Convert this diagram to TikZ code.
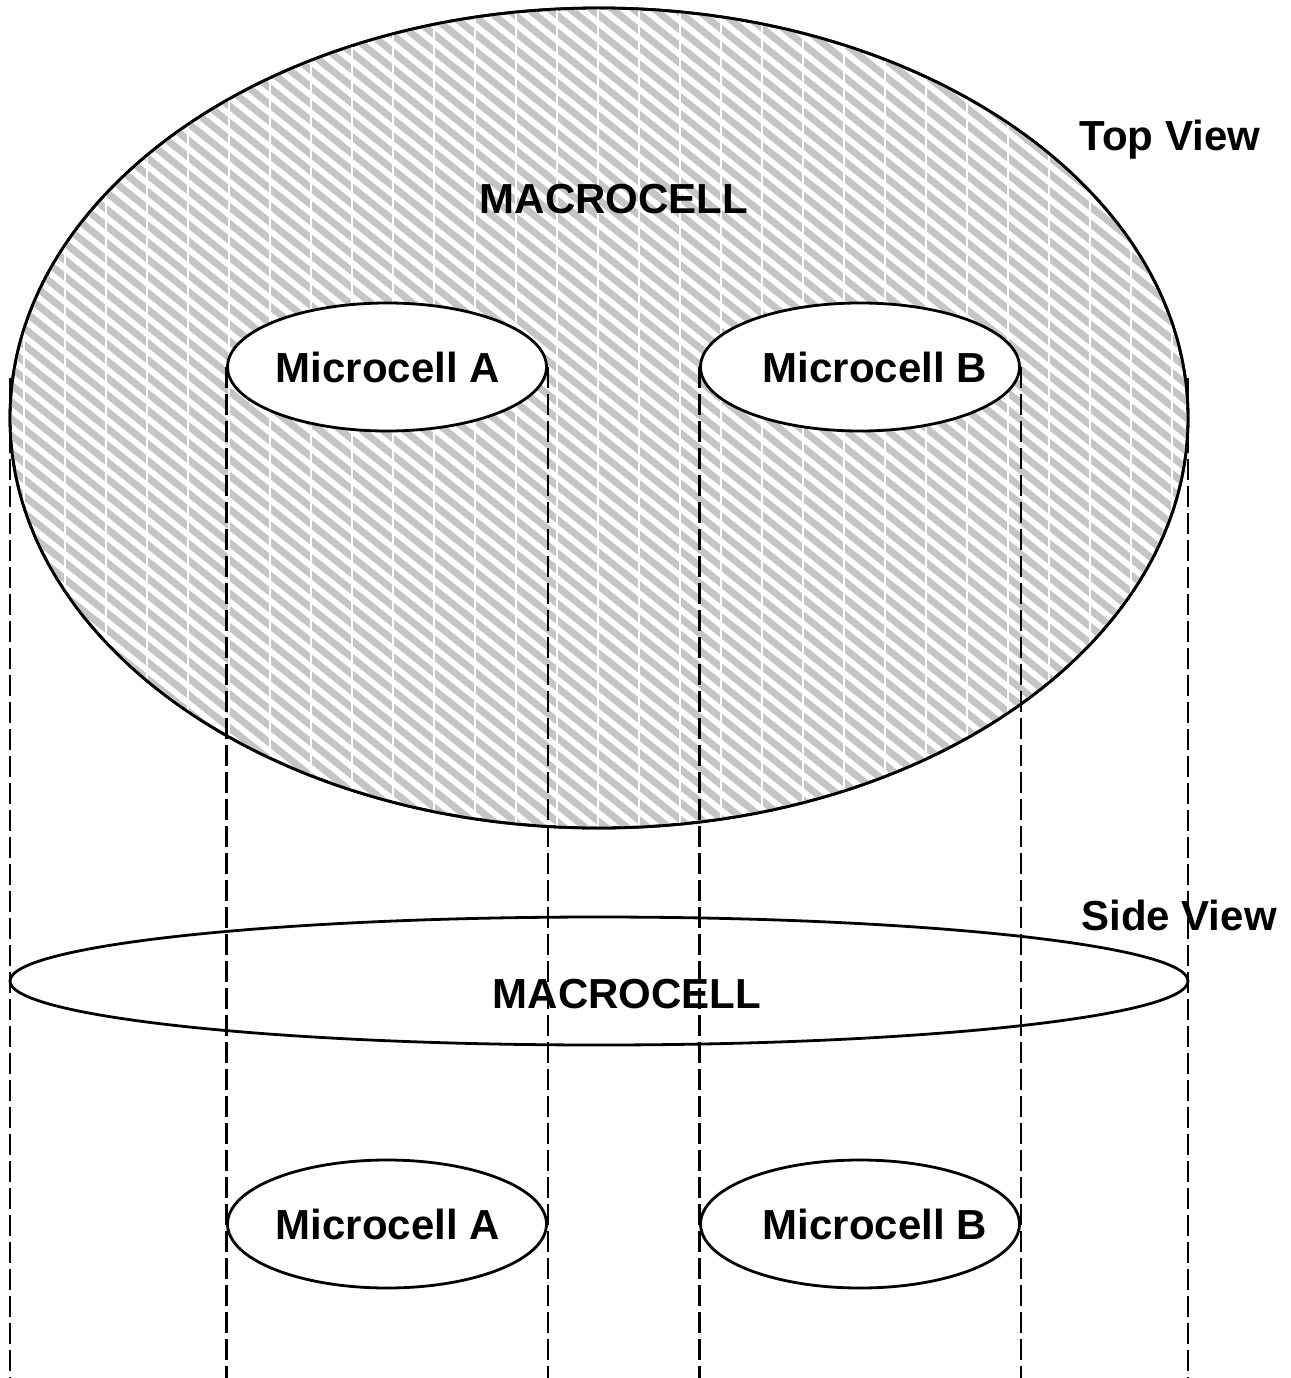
\documentclass[tikz,border=0pt]{standalone}
\usepackage{fontspec}
\setmainfont{Liberation Sans}
\usetikzlibrary{shapes.geometric}

\definecolor{hatchgray}{RGB}{196,197,199}
\tikzset{
  cell/.style={ellipse, draw, line width=2.8pt, inner sep=0pt},
  microcell/.style={cell, fill=white, minimum width=319pt, minimum height=128pt},
  guide/.style={line width=2.8pt, dash pattern=on 21pt off 6pt},
  txt/.style={anchor=base, font=\fontsize{42}{50}\selectfont\bfseries},
  hatch/.style={line width=7pt, hatchgray},
  gap/.style={line width=2pt, white},
}

\begin{document}
\begin{tikzpicture}[x=1pt, y=-1pt]
        \useasboundingbox (0,0) rectangle (1290,1378);

        % Top view: hatched macrocell
        \node[cell, minimum width=1178pt, minimum height=820pt] (macroTop) at (599,418) {};
        \begin{scope}
          \clip (macroTop.center) ellipse [x radius=589pt, y radius=410pt];
          \foreach \i in {-1100,-1079,...,1300}
            \draw[hatch] (\i,0) -- ++(1100,880);
          \foreach \x in {24,65,...,1200}
            \draw[gap] (\x,0) -- (\x,840);
        \end{scope}
        \draw[line width=2.8pt] (macroTop.center) ellipse [x radius=589pt, y radius=410pt];

        % Bottom edge for the guide lines
        \coordinate (bottom) at (0,1378);
        \coordinate (edgeL) at (10,378);
        \coordinate (edgeR) at (1188,378);

        % Side view macrocell
        \node[cell, minimum width=1178pt, minimum height=128pt] (macroSide) at (599,981) {};

        % Microcells, top view
        \node[microcell] (microA) at (387,367) {};
        \node[microcell] (microB) at (860,367) {};

        % Dashed guide lines
        \draw[guide] (edgeL) -- (edgeL |- bottom);
        \draw[guide] (edgeR) -- (edgeR |- bottom);
        \draw[guide] (microA.west) -- (microA.west |- bottom);
        \draw[guide] (microA.east) -- (microA.east |- bottom);
        \draw[guide] (microB.west) -- (microB.west |- bottom);
        \draw[guide] (microB.east) -- (microB.east |- bottom);

        % Microcells, side view
        \node[microcell] (microAside) at (387,1224) {};
        \node[microcell] (microBside) at (860,1224) {};

        % Labels
        \node[txt] (topView) at (1170,150) {Top View};
        \node[txt] (sideView) at (1179,930) {Side View};
        \node[txt] (macroTopText) at (614,213) {MACROCELL};
        \node[txt] (macroSideText) at (627,1008) {MACROCELL};
        \node[txt] (microAText) at (388,382) {Microcell A};
        \node[txt] (microBText) at (875,382) {Microcell B};
        \node[txt] (microAsideText) at (388,1239) {Microcell A};
        \node[txt] (microBsideText) at (875,1239) {Microcell B};
    \end{tikzpicture}
\end{document}
